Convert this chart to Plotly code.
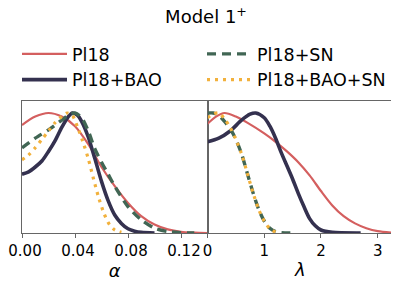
import plotly.graph_objects as go
from plotly.subplots import make_subplots

# ---- data ----
series_names = ["Pl18", "Pl18+BAO", "Pl18+SN", "Pl18+BAO+SN"]

alpha_pl18 = [0, 0.01, 0.02, 0.03, 0.04, 0.05, 0.06, 0.07, 0.08, 0.09, 0.10, 0.11, 0.12, 0.13, 0.14]
pdf_alpha_pl18 = [0.90, 0.97, 1.0, 0.97, 0.89, 0.74, 0.55, 0.39, 0.25, 0.14, 0.07, 0.03, 0.01, 0.003, 0.0]

alpha_bao = [0, 0.005, 0.01, 0.015, 0.02, 0.025, 0.03, 0.035, 0.038, 0.042, 0.045, 0.05, 0.055,
             0.06, 0.065, 0.07, 0.075, 0.08, 0.085, 0.09, 0.1]
pdf_alpha_bao = [0.49, 0.51, 0.55, 0.60, 0.68, 0.77, 0.88, 0.97, 1.0, 0.98, 0.93, 0.80, 0.62,
                 0.43, 0.27, 0.15, 0.08, 0.035, 0.015, 0.005, 0.0]

alpha_sn = [0, 0.01, 0.02, 0.03, 0.035, 0.04, 0.045, 0.05, 0.055, 0.06, 0.065, 0.07, 0.08,
            0.09, 0.10, 0.11, 0.12, 0.13]
pdf_alpha_sn = [0.71, 0.79, 0.86, 0.94, 0.98, 1.0, 0.96, 0.85, 0.70, 0.59, 0.49, 0.39, 0.22,
                0.11, 0.04, 0.012, 0.003, 0.0]

alpha_all = [0, 0.005, 0.01, 0.015, 0.02, 0.025, 0.03, 0.034, 0.038, 0.042, 0.046, 0.05,
             0.054, 0.058, 0.062, 0.066, 0.07, 0.075]
pdf_alpha_all = [0.61, 0.65, 0.71, 0.78, 0.85, 0.92, 0.97, 1.0, 0.98, 0.88, 0.76, 0.62,
                 0.45, 0.29, 0.16, 0.07, 0.025, 0.005]

lam_pl18 = [0, 0.15, 0.3, 0.5, 0.7, 1.0, 1.2, 1.4, 1.6, 1.8, 2.0, 2.2, 2.4, 2.6, 2.8, 3.0, 3.27]
pdf_lam_pl18 = [0.91, 0.97, 1.0, 0.97, 0.92, 0.83, 0.76, 0.68, 0.59, 0.48, 0.35, 0.23, 0.14,
                0.08, 0.04, 0.015, 0.002]

lam_bao = [0, 0.2, 0.4, 0.6, 0.75, 0.85, 1.0, 1.1, 1.2, 1.3, 1.4, 1.5, 1.6, 1.7, 1.8, 1.9,
           2.0, 2.2, 2.7]
pdf_lam_bao = [0.76, 0.79, 0.85, 0.94, 0.99, 1.0, 0.96, 0.89, 0.79, 0.67, 0.56, 0.45, 0.33,
               0.22, 0.12, 0.06, 0.025, 0.005, 0.0]

lam_sn = [0, 0.1, 0.2, 0.3, 0.4, 0.5, 0.6, 0.7, 0.8, 0.9, 1.0, 1.1, 1.2, 1.3, 1.5]
pdf_lam_sn = [1.0, 1.0, 0.98, 0.93, 0.87, 0.78, 0.66, 0.50, 0.34, 0.20, 0.10, 0.04, 0.012, 0.003, 0.0]

lam_all = [0, 0.1, 0.2, 0.3, 0.4, 0.5, 0.6, 0.7, 0.8, 0.9, 1.0, 1.1, 1.2]
pdf_lam_all = [0.96, 0.99, 1.0, 0.95, 0.88, 0.78, 0.66, 0.50, 0.34, 0.20, 0.10, 0.035, 0.008]

alpha_ticks = [0, 0.04, 0.08, 0.12]
alpha_ticktext = ["0.00", "0.04", "0.08", "0.12"]
lam_ticks = [0, 1, 2, 3]
lam_ticktext = ["0", "1", "2", "3"]

# ---- styles ----
styles = {
    "Pl18": dict(color="#d45f5f", width=2.2, dash="solid", rank=1),
    "Pl18+BAO": dict(color="#34314f", width=3.6, dash="solid", rank=3),
    "Pl18+SN": dict(color="#416654", width=3.4, dash="9px,6px", rank=2),
    "Pl18+BAO+SN": dict(color="#f2b13c", width=3.2, dash="3px,5px", rank=4),
}

left = {"Pl18": (alpha_pl18, pdf_alpha_pl18), "Pl18+BAO": (alpha_bao, pdf_alpha_bao),
        "Pl18+SN": (alpha_sn, pdf_alpha_sn), "Pl18+BAO+SN": (alpha_all, pdf_alpha_all)}
right = {"Pl18": (lam_pl18, pdf_lam_pl18), "Pl18+BAO": (lam_bao, pdf_lam_bao),
         "Pl18+SN": (lam_sn, pdf_lam_sn), "Pl18+BAO+SN": (lam_all, pdf_lam_all)}

fig = make_subplots(rows=1, cols=2, horizontal_spacing=0)

for name in series_names:
    st = styles[name]
    for col, data in ((1, left), (2, right)):
        x, y = data[name]
        fig.add_trace(go.Scatter(
            x=x, y=y, mode="lines", name=name,
            line=dict(color=st["color"], width=st["width"], dash=st["dash"],
                      shape="spline", smoothing=0.8),
            showlegend=(col == 1), legendrank=st["rank"], cliponaxis=True,
        ), row=1, col=col)

axis_common = dict(showgrid=False, zeroline=False, showline=True, mirror=True,
                   linecolor="#666666", linewidth=1)

fig.update_xaxes(**axis_common, ticks="outside", ticklen=4, tickcolor="#666666",
                 ticklabeloverflow="allow",
                 tickfont=dict(family="DejaVu Sans", size=15, color="black"))
fig.update_xaxes(range=[0, 0.14], tickvals=alpha_ticks, ticktext=alpha_ticktext,
                 ticklabelshift=3,
                 title=dict(text="<i>α</i>", font=dict(family="DejaVu Sans", size=18, color="black"),
                            standoff=4), row=1, col=1)
fig.update_xaxes(range=[0, 3.27], tickvals=lam_ticks, ticktext=lam_ticktext,
                 title=dict(text="<i>λ</i>", font=dict(family="DejaVu Sans", size=18, color="black"),
                            standoff=4), row=1, col=2)
fig.update_yaxes(**axis_common, range=[0, 1.1], showticklabels=False, ticks="")

# page body adds an 8px offset, so the figure is 8px smaller than the window
fig.update_layout(
    width=391, height=276,
    margin=dict(l=14, r=6, t=93, b=51, autoexpand=False),
    paper_bgcolor="white", plot_bgcolor="white",
    font=dict(family="DejaVu Sans", color="black"),
    title=dict(text="Model 1<sup>+</sup>", x=198 / 391, xanchor="center", y=1 - 2.5 / 276,
               yanchor="top", font=dict(family="DejaVu Sans", size=18, color="black")),
    legend=dict(orientation="h", x=9 / 391, xanchor="left", xref="container",
                y=1 - 28 / 276, yanchor="top", yref="container",
                entrywidth=125, entrywidthmode="pixels", itemwidth=45,
                font=dict(family="DejaVu Sans", size=17.5, color="black"),
                bgcolor="rgba(0,0,0,0)", traceorder="normal"),
)

fig.write_html("out.html")
